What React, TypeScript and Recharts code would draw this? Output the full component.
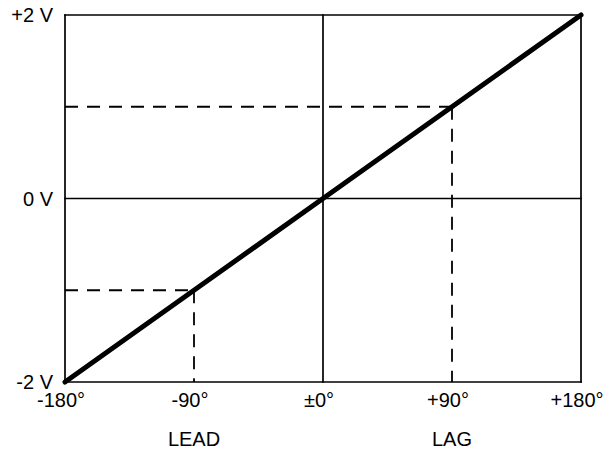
import React from 'react'
import { LineChart, Line, XAxis, YAxis, ReferenceLine } from 'recharts'

const phaseTicks = [-180, -90, 0, 90, 180]
const phaseLabels = ['-180°', '-90°', '±0°', '+90°', '+180°']
const phaseSide = ['', 'LEAD', '', 'LAG', '']
const voltTicks = [-2, 0, 2]
const voltLabels = ['-2 V', '0 V', '+2 V']
const outputVolts = [-2, -1, 0, 1, 2]

const data = phaseTicks.map((p, i) => ({ phase: p, volts: outputVolts[i] }))

const FONT = '"Liberation Sans", Arial, sans-serif'

function PhaseTick(props: any) {
  const { x, y, payload } = props
  const i = phaseTicks.indexOf(payload.value)
  return (
    <g>
      <text x={x - 4} y={y} dy="0.71em" textAnchor="middle" fontFamily={FONT} fontSize={20} fill="#000">
        {phaseLabels[i]}
      </text>
      {phaseSide[i] && (
        <text x={x} y={y + 39} dy="0.71em" textAnchor="middle" fontFamily={FONT} fontSize={20} fill="#000">
          {phaseSide[i]}
        </text>
      )}
    </g>
  )
}

export default function App() {
  const dash = { stroke: '#000', strokeWidth: 1.8, strokeDasharray: '13 9' }
  const solid = { stroke: '#000', strokeWidth: 1.7, strokeLinecap: 'square' as const }
  return (
    <div style={{ position: 'absolute', left: 0, top: 0, background: '#fff' }}>
      <LineChart width={610} height={452} data={data} margin={{ top: 15, right: 29, bottom: 0, left: 0 }}>
        <XAxis
          dataKey="phase"
          type="number"
          domain={[-180, 180]}
          ticks={phaseTicks}
          axisLine={false}
          tickLine={false}
          tickSize={6}
          tickMargin={5}
          height={70}
          tick={<PhaseTick />}
        />
        <YAxis
          type="number"
          domain={[-2, 2]}
          ticks={voltTicks}
          tickFormatter={(v: number) => voltLabels[voltTicks.indexOf(v)]}
          axisLine={false}
          tickLine={false}
          tickSize={6}
          tickMargin={6}
          width={65}
          tick={{ fill: '#000', fontSize: 20, fontFamily: FONT }}
        />
        {phaseTicks.filter((p) => p % 180 === 0).map((p) => (
          <ReferenceLine key={'v' + p} x={p} {...solid} />
        ))}
        {voltTicks.map((v) => (
          <ReferenceLine key={'h' + v} y={v} {...solid} />
        ))}
        <ReferenceLine segment={[{ x: -180, y: 1 }, { x: 90, y: 1 }]} {...dash} />
        <ReferenceLine segment={[{ x: 90, y: 1 }, { x: 90, y: -2 }]} {...dash} />
        <ReferenceLine segment={[{ x: -180, y: -1 }, { x: -90, y: -1 }]} {...dash} />
        <ReferenceLine segment={[{ x: -90, y: -1 }, { x: -90, y: -2 }]} {...dash} />
        <Line
          dataKey="volts"
          stroke="#000"
          strokeWidth={5}
          dot={false}
          activeDot={false}
          strokeLinecap="round"
          isAnimationActive={false}
        />
      </LineChart>
    </div>
  )
}
